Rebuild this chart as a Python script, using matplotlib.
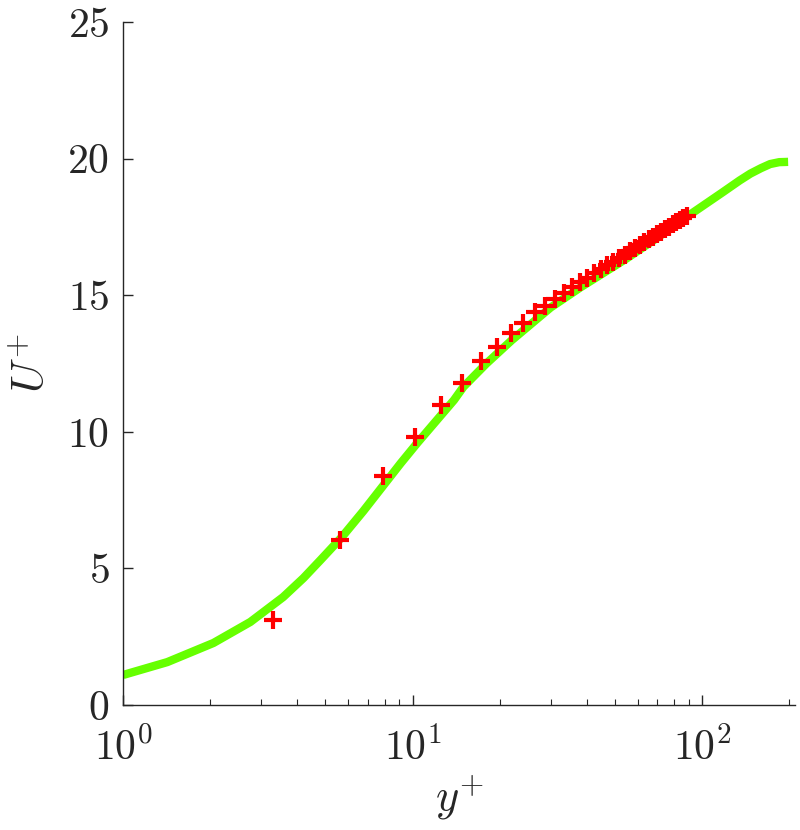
import matplotlib
matplotlib.use("Agg")
import matplotlib.pyplot as plt
from matplotlib.ticker import LogLocator, NullFormatter

plt.rcParams['font.family'] = 'serif'
plt.rcParams['font.serif'] = ['cmr10']
plt.rcParams['mathtext.fontset'] = 'cm'
plt.rcParams['axes.formatter.use_mathtext'] = True

# Reference (green) profile
line_yplus = [1.0, 1.42, 2.05, 2.75, 3.57, 4.2, 4.8, 5.7, 6.76, 9.1, 10.4, 13.9, 15.0,
              18.0, 22.0, 30.0, 38.2, 55.0, 70.0, 91.5, 118.0, 135.0, 147.0, 160.0,
              172.0, 185.0, 198.5]
line_U = [1.10, 1.57, 2.27, 3.04, 3.95, 4.65, 5.3, 6.15, 7.1, 8.85, 9.6, 11.16, 11.65,
          12.5, 13.35, 14.55, 15.3, 16.35, 17.1, 17.97, 18.77, 19.2, 19.45, 19.65,
          19.8, 19.87, 19.88]

# Data points (red crosses)
pts_yplus = [3.3, 5.6, 7.9, 10.2, 12.5, 14.8, 17.2, 19.5, 21.8, 24.1, 26.4,
             28.7, 31.0, 33.3, 35.6, 37.9, 40.2, 42.5, 44.8, 47.1, 49.4,
             51.7, 54.0, 56.3, 58.6, 60.9, 63.2, 65.5, 67.8, 70.1, 72.4,
             74.7, 77.0, 79.3, 81.6, 83.9, 86.2, 88.5]
pts_U = [3.11, 6.04, 8.38, 9.81, 10.98, 11.8, 12.6, 13.1, 13.6, 13.98, 14.38,
         14.6, 14.85, 15.08, 15.3, 15.47, 15.64, 15.80, 15.95, 16.09, 16.23,
         16.36, 16.48, 16.60, 16.72, 16.83, 16.94, 17.04, 17.14, 17.23, 17.33,
         17.42, 17.50, 17.59, 17.67, 17.75, 17.83, 17.90]

y_ticks = [0, 5, 10, 15, 20, 25]
x_ticks = [1, 10, 100]

fig = plt.figure(figsize=(8.0, 8.3), dpi=100)
ax = fig.add_axes([0.154, 0.1506, 0.84, 0.8229])

ax.plot(line_yplus, line_U, color='#66ff00', lw=6, solid_capstyle='butt',
        solid_joinstyle='round', zorder=2)
ax.plot(pts_yplus, pts_U, linestyle='none', marker='+', color='#ff0000',
        markersize=13, markeredgewidth=3.0, zorder=3)

ax.set_xscale('log')
ax.set_xlim(1, 210)
ax.set_ylim(0, 25)
ax.set_yticks(y_ticks)
ax.set_xticks(x_ticks)
ax.xaxis.set_minor_locator(LogLocator(base=10, subs=[2, 3, 4, 5, 6, 7, 8, 9]))
ax.xaxis.set_minor_formatter(NullFormatter())

dark = '#262626'
for s in ['top', 'right']:
    ax.spines[s].set_visible(False)
for s in ['left', 'bottom']:
    ax.spines[s].set_color(dark)
    ax.spines[s].set_linewidth(1.0)

ax.tick_params(axis='both', which='major', direction='in', length=7, width=1.0,
               colors=dark, labelsize=30, pad=10)
ax.tick_params(axis='x', which='minor', direction='in', length=4, width=0.8, colors=dark)
ax.tick_params(axis='x', which='major', pad=16)

ax.set_xlabel(r'$y^{+}$', fontsize=32, color=dark, labelpad=4)
ax.set_ylabel(r'$U^{+}$', fontsize=32, color=dark, labelpad=10)

fig.savefig('out.png', dpi=100)
